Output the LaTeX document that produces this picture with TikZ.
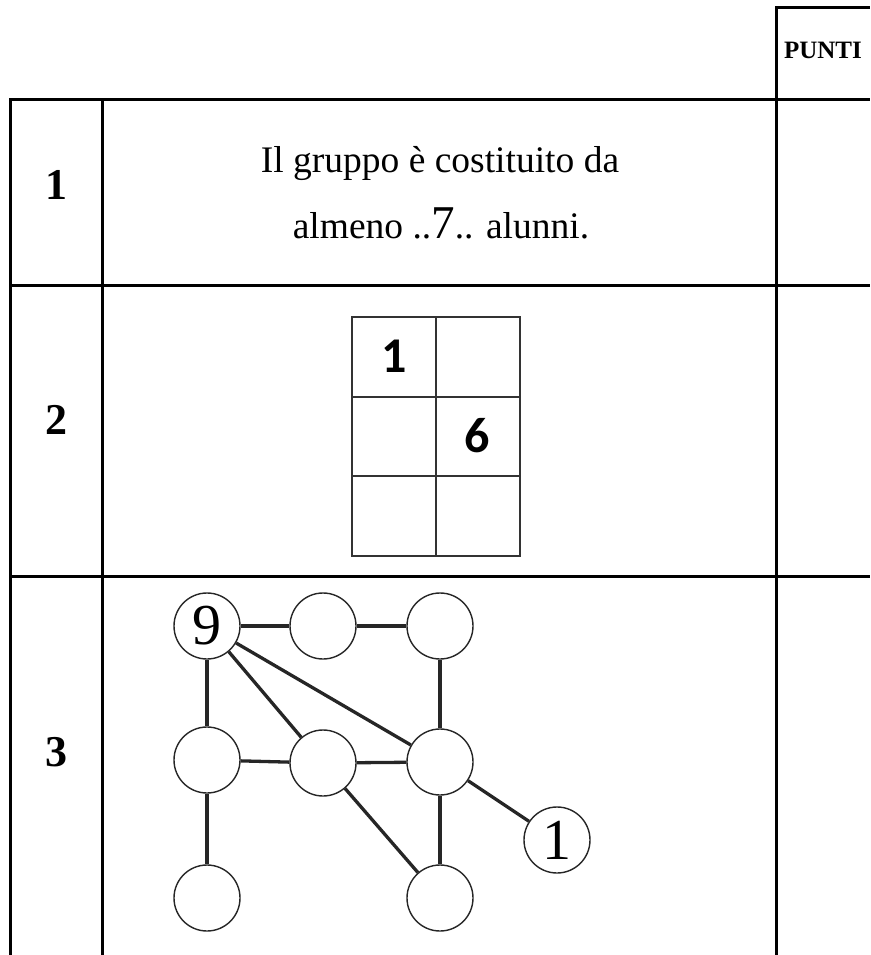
\documentclass[tikz,border=0pt]{standalone}
\usepackage{fontspec}
\setmainfont{Liberation Serif}
\newfontfamily\calfont{Carlito}
\begin{document}
\begin{tikzpicture}[x=1pt,y=-1pt]
\tikzstyle{rule}=[line width=3pt]
\tikzstyle{cellline}=[line width=2pt,draw=black!80]
\tikzstyle{vertex}=[draw=black!85,line width=1.4pt,circle,minimum size=66pt,inner sep=0pt,font=\fontsize{58}{58}\selectfont]
\tikzstyle{edge}=[line width=3.3pt,black!85]
\tikzstyle{rownum}=[font=\bfseries\fontsize{44}{44}\selectfont]
\tikzstyle{digit}=[font=\calfont\bfseries\fontsize{50}{50}\selectfont]
\tikzstyle{testo}=[anchor=base,font=\fontsize{37.5}{37.5}\selectfont,inner sep=0pt]
\useasboundingbox (0,0) rectangle (870,955);
% table
\draw[rule] (10,955) -- (10,100) -- (870,100);
\draw[rule] (102,100) -- (102,955);
\draw[rule] (776,955) -- (776,8) -- (870,8);
\draw[rule] (10,285) -- (870,285);
\draw[rule] (10,576) -- (870,576);
\node[font=\bfseries\fontsize{25}{25}\selectfont] (punti) at (823,50) {PUNTI};
\node[rownum] (r1) at (56,185) {1};
\node[rownum] (r2) at (56,420) {2};
\node[rownum] (r3) at (56,752) {3};
% row 1
\node[testo] (riga1) at (440,172) {Il gruppo è costituito da};
\node[testo] (riga2) at (441,238) {almeno ..{\fontsize{47}{47}\selectfont 7}.. alunni.};
% row 2
\draw[cellline] (352,317) rectangle (520,556);
\draw[cellline] (436,317) -- (436,556);
\draw[cellline] (352,397) -- (520,397);
\draw[cellline] (352,476) -- (520,476);
\node[digit] (uno) at (394,356) {1};
\node[digit] (sei) at (477,436) {6};
% row 3
\node[vertex] (0) at (207,626) {9};
\node[vertex] (1) at (323,626) {};
\node[vertex] (2) at (440,626) {};
\node[vertex] (3) at (207,760) {};
\node[vertex] (4) at (323,763) {};
\node[vertex] (5) at (440,762) {};
\node[vertex] (6) at (207,898) {};
\node[vertex] (7) at (440,898) {};
\node[vertex] (8) at (557,840) {1};
\draw[edge] (0) -- (1);
\draw[edge] (1) -- (2);
\draw[edge] (0) -- (3);
\draw[edge] (0) -- (4);
\draw[edge] (0) -- (5);
\draw[edge] (2) -- (5);
\draw[edge] (3) -- (4);
\draw[edge] (4) -- (5);
\draw[edge] (3) -- (6);
\draw[edge] (4) -- (7);
\draw[edge] (5) -- (7);
\draw[edge] (5) -- (8);
\end{tikzpicture}
\end{document}
